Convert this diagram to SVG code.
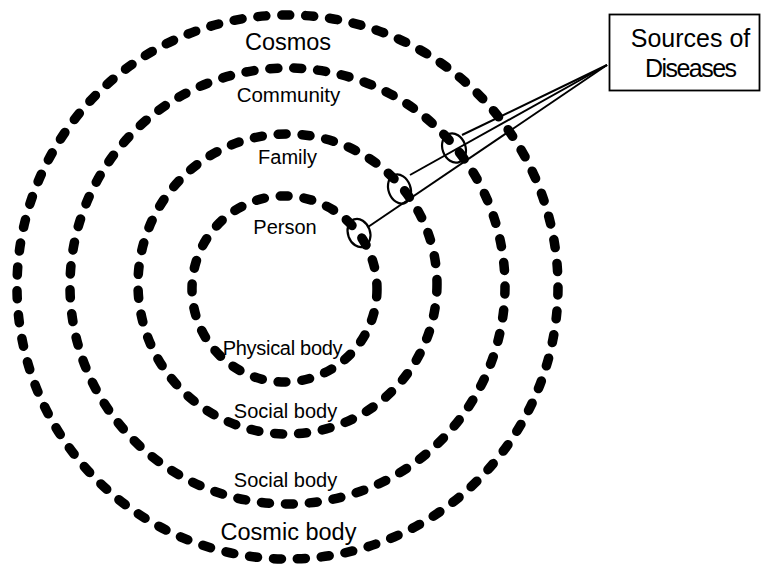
<svg xmlns="http://www.w3.org/2000/svg" width="762" height="567" viewBox="0 0 762 567">
<style>
.ring{fill:none;stroke:#000;stroke-width:9.5;stroke-linecap:round;stroke-dasharray:8 16}
.lbl{font-family:"Liberation Sans",Arial,sans-serif;fill:#000;text-anchor:middle}
.mark{fill:none;stroke:#000;stroke-width:2.2}
.conn{stroke:#000;stroke-width:2;fill:none}
</style>
<rect width="762" height="567" fill="#fff"/>
<g id="cosmos">
<ellipse class="ring" cx="287.5" cy="287" rx="270.5" ry="272"/>
<text class="lbl" x="288" y="50" font-size="23.5">Cosmos</text>
<text class="lbl" x="288.5" y="540" font-size="23.5">Cosmic body</text>
</g>
<g id="community">
<ellipse class="ring" cx="287.5" cy="286" rx="217.5" ry="218"/>
<text class="lbl" x="288.5" y="102" font-size="20.5">Community</text>
<text class="lbl" x="285.5" y="487" font-size="20">Social body</text>
</g>
<g id="family">
<ellipse class="ring" cx="287.5" cy="284" rx="149.5" ry="150"/>
<text class="lbl" x="287.5" y="163.5" font-size="20">Family</text>
<text class="lbl" x="285.5" y="418" font-size="20">Social body</text>
</g>
<g id="person">
<ellipse class="ring" cx="284.5" cy="289" rx="92.5" ry="93"/>
<text class="lbl" x="285" y="234" font-size="20">Person</text>
<text class="lbl" x="282.5" y="355" font-size="20" letter-spacing="-0.3">Physical body</text>
</g>
<g id="sources">
<rect x="609.5" y="14.5" width="150" height="76" fill="#fff" stroke="#000" stroke-width="1.8"/>
<text class="lbl" x="690.5" y="47" font-size="25">Sources of</text>
<text class="lbl" x="691" y="77" font-size="25" textLength="92" lengthAdjust="spacing">Diseases</text>
</g>
<g id="connectors">
<line class="conn" x1="368" y1="227" x2="607" y2="65"/>
<line class="conn" x1="410" y1="175" x2="607" y2="65"/>
<line class="conn" x1="462" y1="135" x2="607" y2="65"/>
<ellipse class="mark" cx="359" cy="233" rx="11" ry="14.5" transform="rotate(-20 359 233)"/>
<ellipse class="mark" cx="399.5" cy="189" rx="11" ry="15" transform="rotate(-20 399.5 189)"/>
<ellipse class="mark" cx="454" cy="148" rx="11.5" ry="15" transform="rotate(-20 454 148)"/>
</g>
</svg>
